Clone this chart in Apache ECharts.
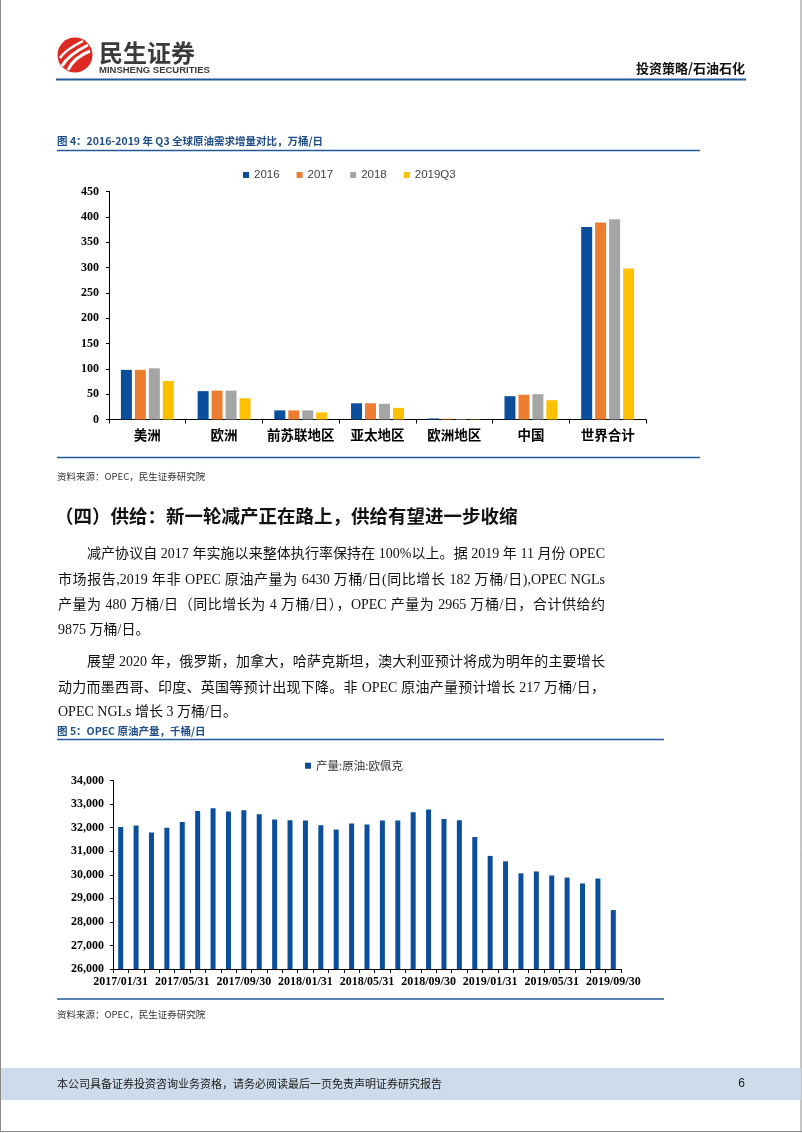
<!DOCTYPE html>
<html>
<head>
<meta charset="utf-8">
<script src="https://cdn.jsdelivr.net/npm/echarts@6/dist/echarts.min.js"></script>
<style>
body{margin:0;background:#fff;}
#page{position:relative;width:802px;height:1133px;overflow:hidden;}
#main{position:absolute;left:0;top:0;width:802px;height:1133px;}
.ln{position:absolute;left:58px;width:547px;height:20px;line-height:20px;font-size:14px;
    font-family:'Liberation Serif','Noto Sans CJK SC',serif;color:#111;
    text-align:justify;text-align-last:justify;text-justify:inter-character;}
.ln.ind{left:87px;width:518px;}
.ln.last{text-align:left;text-align-last:left;white-space:nowrap;}
</style>
</head>
<body>
<div id="page">
  <div id="main"></div>
  <div class="ln ind" style="top:544px">减产协议自 2017 年实施以来整体执行率保持在 100%以上。据 2019 年 11 月份 OPEC</div>
  <div class="ln" style="top:570px">市场报告,2019 年非 OPEC 原油产量为 6430 万桶/日(同比增长 182 万桶/日),OPEC NGLs</div>
  <div class="ln" style="top:595px">产量为 480 万桶/日（同比增长为 4 万桶/日），OPEC 产量为 2965 万桶/日，合计供给约</div>
  <div class="ln last" style="top:620px">9875 万桶/日。</div>
  <div class="ln ind" style="top:652px">展望 2020 年，俄罗斯，加拿大，哈萨克斯坦，澳大利亚预计将成为明年的主要增长</div>
  <div class="ln" style="top:678px">动力而墨西哥、印度、英国等预计出现下降。非 OPEC 原油产量预计增长 217 万桶/日，</div>
  <div class="ln last" style="top:702px">OPEC NGLs 增长 3 万桶/日。</div>
</div>
<script>
// 图4 数据
var regions = ['美洲', '欧洲', '前苏联地区', '亚太地区', '欧洲地区', '中国', '世界合计'];
var d2016 = [98, 56, 18, 32, 2, 46, 380];
var d2017 = [98, 57, 18, 32, 1.5, 49, 389];
var d2018 = [101, 57, 18, 31, 1, 50, 395];
var d2019q3 = [76, 42, 14, 23, 0.6, 38, 298];
var demandTicks = {min: 0, max: 450, interval: 50};

// 图5 数据
var months = ['2017/01/31', '2017/02/28', '2017/03/31', '2017/04/30', '2017/05/31', '2017/06/30',
    '2017/07/31', '2017/08/31', '2017/09/30', '2017/10/31', '2017/11/30', '2017/12/31',
    '2018/01/31', '2018/02/28', '2018/03/31', '2018/04/30', '2018/05/31', '2018/06/30',
    '2018/07/31', '2018/08/31', '2018/09/30', '2018/10/31', '2018/11/30', '2018/12/31',
    '2019/01/31', '2019/02/28', '2019/03/31', '2019/04/30', '2019/05/31', '2019/06/30',
    '2019/07/31', '2019/08/31', '2019/09/30'];
var opecOutput = [32030, 32090, 31790, 31990, 32240, 32710, 32820, 32680, 32740, 32570, 32340, 32310,
    32300, 32100, 31920, 32170, 32130, 32300, 32300, 32650, 32770, 32370, 32310, 31600,
    30800, 30570, 30060, 30140, 29970, 29880, 29630, 29840, 28500];
var outputTicks = {min: 26000, max: 34000, interval: 1000};

var blue = '#23599A';
var serif = "'Liberation Serif', 'Noto Sans CJK SC', serif";
var cjk = "'Noto Sans CJK SC', sans-serif";

function txt(x, y, text, font, fill, align) {
    return {
        type: 'text', silent: true,
        style: {x: x, y: y, text: text, font: font, fill: fill || '#222',
            align: align || 'left', verticalAlign: 'middle'}
    };
}
function hline(x1, x2, y, color, w) {
    return {
        type: 'line', silent: true,
        shape: {x1: x1, y1: y, x2: x2, y2: y},
        style: {stroke: color, lineWidth: w}
    };
}

var dom = document.getElementById('main');
var myChart = echarts.init(dom, null, {renderer: 'canvas'});
var option = null;

var axisLineBlack = {show: true, lineStyle: {color: '#000', width: 1}};

option = {
    animation: false,
    backgroundColor: 'transparent',
    color: ['#0B4F9C', '#ED7D31', '#A5A5A5', '#FFC000'],
    legend: [
        {
            data: ['2016', '2017', '2018', '2019Q3'],
            left: 238, top: 164,
            icon: 'rect', itemWidth: 6, itemHeight: 6, itemGap: 17,
            textStyle: {fontSize: 11.5, color: '#404040', fontFamily: "'Liberation Sans Narrow', 'Liberation Sans', sans-serif"}
        },
        {
            data: ['产量:原油:欧佩克'],
            left: 300, top: 755,
            icon: 'rect', itemWidth: 6, itemHeight: 6,
            textStyle: {fontSize: 11.5, color: '#333', fontFamily: cjk}
        }
    ],
    grid: [
        {left: 109, top: 191.5, width: 537, height: 228},
        {left: 113, top: 780.5, width: 508, height: 188.5}
    ],
    xAxis: [
        {
            type: 'category', gridIndex: 0, data: regions,
            axisLine: axisLineBlack,
            axisTick: {show: true, length: 4, lineStyle: {color: '#000'}},
            axisLabel: {color: '#000', fontSize: 13.5, fontWeight: 'bold', fontFamily: serif, margin: 10, interval: 0}
        },
        {
            type: 'category', gridIndex: 1, data: months,
            axisLine: axisLineBlack,
            axisTick: {show: true, length: 4, interval: 0, lineStyle: {color: '#000'}},
            axisLabel: {color: '#000', fontSize: 12, fontWeight: 'bold', fontFamily: serif, interval: 3, margin: 7}
        }
    ],
    yAxis: [
        {
            type: 'value', gridIndex: 0,
            min: demandTicks.min, max: demandTicks.max, interval: demandTicks.interval,
            axisLine: axisLineBlack,
            axisTick: {show: true, length: 3, lineStyle: {color: '#000'}},
            splitLine: {show: false},
            axisLabel: {color: '#000', fontSize: 12, fontWeight: 'bold', fontFamily: serif, margin: 10}
        },
        {
            type: 'value', gridIndex: 1,
            min: outputTicks.min, max: outputTicks.max, interval: outputTicks.interval,
            axisLine: axisLineBlack,
            axisTick: {show: true, length: 3, lineStyle: {color: '#000'}},
            splitLine: {show: false},
            axisLabel: {
                color: '#000', fontSize: 12, fontWeight: 'bold', fontFamily: serif, margin: 9,
                formatter: function (v) { return v.toLocaleString('en-US'); }
            }
        }
    ],
    series: [
        {name: '2016', type: 'bar', xAxisIndex: 0, yAxisIndex: 0, barWidth: 11, barGap: '27%', data: d2016},
        {name: '2017', type: 'bar', xAxisIndex: 0, yAxisIndex: 0, barWidth: 11, barGap: '27%', data: d2017},
        {name: '2018', type: 'bar', xAxisIndex: 0, yAxisIndex: 0, barWidth: 11, barGap: '27%', data: d2018},
        {name: '2019Q3', type: 'bar', xAxisIndex: 0, yAxisIndex: 0, barWidth: 11, barGap: '27%', data: d2019q3},
        {name: '产量:原油:欧佩克', type: 'bar', xAxisIndex: 1, yAxisIndex: 1, barWidth: 5,
            itemStyle: {color: '#0B4F9C'}, data: opecOutput}
    ],
    graphic: {
        elements: [
            // 页面边框
            {type: 'line', silent: true, shape: {x1: 0.5, y1: 0, x2: 0.5, y2: 1131.5}, style: {stroke: '#8a8a8a', lineWidth: 1}},
            {type: 'line', silent: true, shape: {x1: 801, y1: 0, x2: 801, y2: 1131.5}, style: {stroke: '#8a8a8a', lineWidth: 1}},
            hline(0, 802, 1131.5, '#8a8a8a', 1),
            // logo
            {type: 'circle', silent: true, shape: {cx: 75, cy: 55, r: 17.5}, style: {fill: '#DC2A23'}},
            {type: 'bezierCurve', silent: true, shape: {x1: 62, y1: 66, cpx1: 68, cpy1: 55, x2: 88, y2: 45}, style: {stroke: '#fff', lineWidth: 3, fill: 'none'}},
            {type: 'bezierCurve', silent: true, shape: {x1: 68, y1: 70, cpx1: 73, cpy1: 58, x2: 90, y2: 51}, style: {stroke: '#fff', lineWidth: 3, fill: 'none'}},
            {type: 'bezierCurve', silent: true, shape: {x1: 60, y1: 58, cpx1: 65, cpy1: 50, x2: 83, y2: 41}, style: {stroke: '#fff', lineWidth: 2.5, fill: 'none'}},
            txt(99, 53, '民生证券', 'bold 24px ' + cjk, '#3a3a3a'),
            txt(99, 70, 'MINSHENG SECURITIES', 'bold 9.5px ' + "'Liberation Sans Narrow', 'Liberation Sans', sans-serif", '#3a3a3a'),
            txt(745, 68, '投资策略/石油石化', 'bold 13px ' + cjk, '#111', 'right'),
            hline(56, 746, 79.5, blue, 2),
            // 图4
            txt(57, 141, '图 4：2016-2019 年 Q3 全球原油需求增量对比，万桶/日', 'bold 10.5px ' + cjk, '#1F4E86'),
            hline(57, 700, 150.5, blue, 1.5),
            hline(57, 700, 457.5, blue, 1.5),
            txt(57, 476, '资料来源：OPEC，民生证券研究院', '9.5px ' + cjk, '#333'),
            // 正文标题
            txt(55, 516, '（四）供给：新一轮减产正在路上，供给有望进一步收缩', 'bold 18.5px ' + cjk, '#111'),
            // 图5
            txt(57, 731, '图 5：OPEC 原油产量，千桶/日', 'bold 10.5px ' + cjk, '#1F4E86'),
            hline(57, 664, 739.5, blue, 1.5),
            hline(57, 664, 999, blue, 1.5),
            txt(57, 1014, '资料来源：OPEC，民生证券研究院', '9.5px ' + cjk, '#333'),
            // 页脚
            {type: 'rect', silent: true, shape: {x: 1, y: 1068, width: 800, height: 32}, style: {fill: '#CDDBEA'}},
            txt(57, 1084, '本公司具备证券投资咨询业务资格，请务必阅读最后一页免责声明证券研究报告', '11px ' + cjk, '#1a1a1a'),
            txt(745, 1084, '6', '12px ' + "'Liberation Sans', sans-serif", '#1a1a1a', 'right')
        ]
    }
};
if (option && typeof option === "object") {
    myChart.setOption(option, true);
}
</script>
</body>
</html>
